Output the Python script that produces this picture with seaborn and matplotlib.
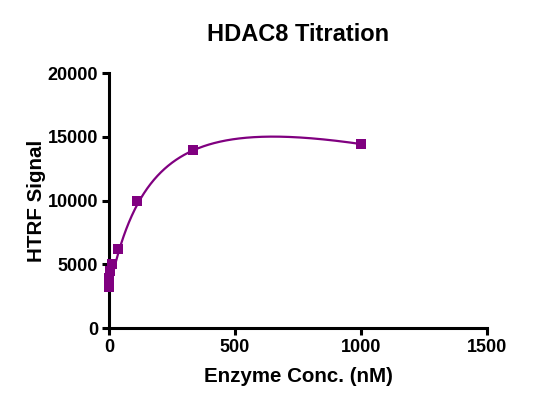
import numpy as np
import matplotlib
matplotlib.use("Agg")
import matplotlib.pyplot as plt
import seaborn as sns

# Data
conc_nM = [1000, 333.3, 111.1, 37.0, 12.3, 4.1, 1.37, 0.46, 0.15, 0.05]
htrf_signal = [14440, 13930, 9960, 6170, 5020, 4500, 3900, 3500, 3300, 3200]

title = "HDAC8 Titration"
xlabel = "Enzyme Conc. (nM)"
ylabel = "HTRF Signal"
xticks = [0, 500, 1000, 1500]
yticks = [0, 5000, 10000, 15000, 20000]

# Fitted curve parameters (hyperbola with linear decline)
fit_baseline = 2860.0
fit_vmax = 20770.0
fit_km = 200.0
fit_slope = 5.74

purple = "#800080"

x = np.array(conc_nM, dtype=float)
y = np.array(htrf_signal, dtype=float)

xc = np.unique(np.concatenate([np.linspace(0, x.max(), 500),
                               np.geomspace(0.01, x.max(), 300)]))
yc = fit_baseline + fit_vmax * xc / (fit_km + xc) - fit_slope * xc

sns.set_theme(style="white")
plt.rcParams["font.family"] = ["Liberation Sans", "DejaVu Sans"]
plt.rcParams["font.weight"] = "bold"
plt.rcParams["text.color"] = "black"
plt.rcParams["axes.labelcolor"] = "black"
plt.rcParams["xtick.color"] = "black"
plt.rcParams["ytick.color"] = "black"

fig = plt.figure(figsize=(5.45, 4.07), dpi=100)
ax = fig.add_axes([0.2, 0.194, 0.6936, 0.6266])

sns.lineplot(x=xc, y=yc, ax=ax, color=purple, linewidth=1.6, sort=False)
sns.scatterplot(x=x, y=y, ax=ax, marker="s", s=55, color=purple,
                edgecolor=purple, linewidth=0, zorder=3)

ax.set_xlim(0, 1500)
ax.set_ylim(0, 20000)
ax.set_xticks(xticks)
ax.set_yticks(yticks)
ax.set_xticklabels([str(t) for t in xticks], fontsize=13, fontweight="bold")
ax.set_yticklabels([str(t) for t in yticks], fontsize=13, fontweight="bold")
ax.set_xlabel(xlabel, fontsize=14.8, fontweight="bold", labelpad=8)
ax.set_ylabel(ylabel, fontsize=14.8, fontweight="bold", labelpad=1)
ax.set_title(title, fontsize=17, fontweight="bold", pad=23, color="black")

for side in ["top", "right"]:
    ax.spines[side].set_visible(False)
for side in ["left", "bottom"]:
    ax.spines[side].set_linewidth(2.2)
    ax.spines[side].set_color("black")
    ax.spines[side].set_capstyle("projecting")
ax.tick_params(axis="both", direction="out", length=5, width=2.2,
               colors="black", pad=3, left=True, bottom=True)
for c in ax.collections + ax.lines:
    c.set_clip_on(False)

fig.savefig("out.png", dpi=100)
